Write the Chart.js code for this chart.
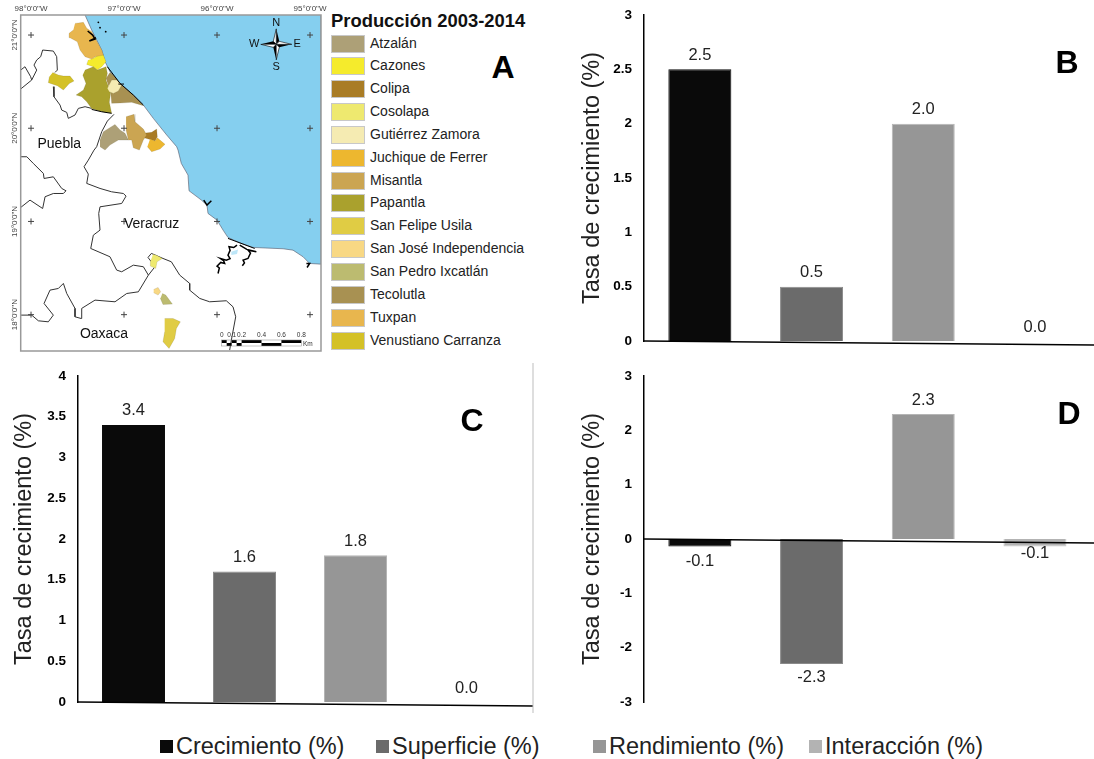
<!DOCTYPE html>
<html lang="es">
<head>
<meta charset="UTF-8">
<title>Producción 2003-2014</title>
<script src="https://cdn.jsdelivr.net/npm/chart.js"></script>
<style>
    body { margin: 0; background: #fff; font-family: "Liberation Sans", Arial, sans-serif; color: #222; overflow: hidden; }
    #page { position: relative; width: 1094px; height: 759px; }
    canvas { position: absolute; }
    .letra { position: absolute; font-size: 32px; font-weight: bold; color: #000; transform: translate(-50%, -50%); }
    #tituloMapa { position: absolute; left: 331px; top: 10px; font-size: 18.4px; font-weight: bold; color: #111; white-space: nowrap; }
    .mun { position: absolute; left: 331px; height: 18px; width: 200px; font-size: 14px; line-height: 17px; white-space: nowrap; }
    .mun i { position: absolute; left: 0; top: 0; width: 32px; height: 16px; border: 1px solid #c8c8c8; }
    .mun span { position: absolute; left: 39px; }
    .ley { position: absolute; top: 732px; font-size: 23.5px; line-height: 28px; white-space: nowrap; }
    .ley i { position: absolute; left: -16px; top: 8px; width: 13px; height: 13px; }
</style>
</head>
<body>
<div id="page">
    <canvas id="mapaA" width="330" height="360" style="left:0;top:0"></canvas>
    <canvas id="chartB" width="534" height="358" style="left:560px;top:0"></canvas>
    <canvas id="chartC" width="560" height="358" style="left:0;top:360px"></canvas>
    <canvas id="chartD" width="534" height="358" style="left:560px;top:360px"></canvas>
    <div id="tituloMapa">Producción 2003-2014</div>
    <div class="letra" style="left:503px;top:67px">A</div>
    <div class="letra" style="left:1067px;top:62px">B</div>
    <div class="letra" style="left:472px;top:420px">C</div>
    <div class="letra" style="left:1069px;top:413px">D</div>
</div>
<script>
// barras
const categorias = ['Crecimiento (%)', 'Superficie (%)', 'Rendimiento (%)', 'Interacción (%)'];
const coloresBarra = ['#0a0a0a', '#6b6b6b', '#969696', '#b3b3b3'];
const valoresB = [2.5, 0.5, 2.0, 0.0];
const valoresC = [3.4, 1.6, 1.8, 0.0];
const valoresD = [-0.14, -2.3, 2.3, -0.14];
const tituloEje = 'Tasa de crecimiento (%)';

// mapa: leyenda
const municipios = ['Atzalán', 'Cazones', 'Colipa', 'Cosolapa', 'Gutiérrez Zamora', 'Juchique de Ferrer', 'Misantla', 'Papantla',
    'San Felipe Usila', 'San José Independencia', 'San Pedro Ixcatlán', 'Tecolutla', 'Tuxpan', 'Venustiano Carranza'];
const coloresMun = ['#ADA077', '#F5EB2C', '#A97C25', '#EEE96F', '#F5EBB2', '#EDB72F', '#CBA552', '#AAA12D',
    '#E0CC44', '#F8D884', '#BCBB70', '#A89152', '#E8B64E', '#D4C127'];

// mapa: grados (lon, lat)
const lonTicks = [-98, -97, -96, -95];
const latTicks = [21, 20, 19, 18];

const mar = [[-97.419,21.215],[-97.348,21.054],[-97.294,20.946],[-97.24,20.839],[-97.204,20.714],[-97.151,20.607],[-97.043,20.481],
    [-96.9,20.356],[-96.792,20.249],[-96.685,20.106],[-96.541,19.927],[-96.434,19.802],[-96.419,19.765],[-96.384,19.622],[-96.312,19.497],
    [-96.301,19.329],[-96.168,19.229],[-96.108,19.175],[-96.097,19.086],[-96,19.014],[-95.935,18.907],[-95.882,18.828],[-95.756,18.771],
    [-95.613,18.721],[-95.29,18.707],[-95.183,18.692],[-95.075,18.621],[-95.004,18.549],[-94.882,18.542],[-94.882,21.215]];

const atzalan = [[-97.258,19.873],[-97.222,19.963],[-97.097,20.041],[-97.043,19.981],[-96.989,19.945],[-96.953,19.873],[-97.061,19.873],[-97.151,19.82],[-97.204,19.766],[-97.258,19.802]];
const cazones = [[-97.348,20.742],[-97.301,20.768],[-97.287,20.803],[-97.222,20.785],[-97.194,20.714],[-97.24,20.66],[-97.287,20.624],[-97.33,20.66],[-97.401,20.685],[-97.384,20.732]];
const colipa = [[-96.792,19.945],[-96.703,19.956],[-96.649,19.991],[-96.642,19.909],[-96.667,19.863],[-96.738,19.884],[-96.785,19.898]];
const cosolapa = [[-96.688,18.649],[-96.645,18.635],[-96.588,18.603],[-96.645,18.567],[-96.659,18.496],[-96.717,18.521],[-96.717,18.567]];
const gutierrezZamora = [[-97.179,20.428],[-97.133,20.517],[-97.079,20.517],[-97.025,20.464],[-97.061,20.399],[-97.115,20.374],[-97.158,20.392]];
const juchique = [[-96.72,19.884],[-96.667,19.863],[-96.642,19.898],[-96.559,19.827],[-96.613,19.777],[-96.703,19.748],[-96.749,19.802]];
const misantla = [[-96.978,20.124],[-96.892,20.149],[-96.882,20.07],[-96.792,19.991],[-96.756,19.927],[-96.792,19.873],[-96.835,19.766],[-96.9,19.791],[-96.918,19.873],[-96.953,19.873],[-96.978,19.981]];
const papantla = [[-97.419,20.624],[-97.33,20.66],[-97.287,20.624],[-97.194,20.66],[-97.179,20.589],[-97.194,20.517],[-97.143,20.385],[-97.158,20.278],[-97.133,20.16],[-97.24,20.177],[-97.348,20.213],[-97.401,20.285],[-97.455,20.338],[-97.516,20.356],[-97.437,20.41],[-97.409,20.481],[-97.444,20.571]];
const sanFelipe = [[-96.563,17.959],[-96.473,17.959],[-96.394,17.923],[-96.437,17.852],[-96.455,17.745],[-96.516,17.637],[-96.581,17.709],[-96.563,17.816]];
const sanJose = [[-96.681,18.27],[-96.634,18.292],[-96.606,18.245],[-96.634,18.21],[-96.681,18.235]];
const sanPedro = [[-96.588,18.227],[-96.552,18.21],[-96.48,18.113],[-96.581,18.109],[-96.609,18.174]];
const tecolutla = [[-97.194,20.535],[-97.151,20.599],[-97.097,20.553],[-97.043,20.481],[-96.9,20.356],[-96.792,20.242],[-96.918,20.278],[-97.043,20.27],[-97.133,20.267],[-97.143,20.385]];
const tuxpan = [[-97.527,21.125],[-97.437,21.136],[-97.401,21.072],[-97.348,21.036],[-97.294,20.936],[-97.24,20.839],[-97.222,20.785],[-97.312,20.768],[-97.348,20.742],[-97.419,20.768],[-97.473,20.839],[-97.502,20.928],[-97.581,20.971],[-97.591,21.018],[-97.545,21.054]];
const venustiano = [[-97.767,20.599],[-97.706,20.571],[-97.652,20.56],[-97.581,20.56],[-97.538,20.506],[-97.588,20.481],[-97.652,20.41],[-97.717,20.456],[-97.814,20.489],[-97.803,20.553]];
const poligonos = [atzalan, cazones, colipa, cosolapa, gutierrezZamora, juchique, misantla, papantla, sanFelipe, sanJose, sanPedro, tecolutla, tuxpan, venustiano];
// orden de dibujo: Gutiérrez Zamora va sobre Tecolutla y Papantla
const ordenPoligonos = [0, 1, 2, 3, 5, 6, 7, 8, 9, 10, 11, 4, 12, 13];

const lagunaAzul = [[-95.846,18.675],[-95.774,18.7],[-95.785,18.65],[-95.846,18.639]];

// limites estatales
const limiteNorte = [[-98.111,20.624],[-98.065,20.66],[-98.004,20.553],[-97.993,20.517],[-98.111,20.421]];
const limiteHidalgo = [[-97.993,20.517],[-97.939,20.624],[-97.968,20.678],[-97.939,20.732],[-97.896,20.768],[-97.875,20.839],[-97.76,20.828],[-97.724,20.768],[-97.717,20.624],[-97.742,20.599]];
const limitePuebla = [[-97.76,20.446],[-97.753,20.338],[-97.688,20.249],[-97.67,20.195],[-97.616,20.17],[-97.599,20.106],[-97.527,20.142],[-97.491,20.213],[-97.419,20.231],[-97.348,20.213]];
const limiteVeracruz = [[-97.108,20.149],[-97.179,20.077],[-97.24,19.963],[-97.294,19.802],[-97.323,19.765],[-97.384,19.658],[-97.43,19.587],[-97.384,19.508],[-97.401,19.408],[-97.258,19.354],[-97.133,19.318],[-97.007,19.3],[-96.978,19.272],[-97.025,19.193],[-97.258,19.157],[-97.272,19.086],[-97.258,18.907],[-97.33,18.853],[-97.358,18.71],[-97.151,18.621],[-97.079,18.478],[-97.025,18.46],[-96.9,18.531],[-96.792,18.514],[-96.738,18.424]];
const limiteSur = [[-96.667,18.514],[-96.742,18.614],[-96.706,18.657],[-96.581,18.603],[-96.491,18.567],[-96.401,18.424],[-96.294,18.335],[-96.294,18.263],[-96.186,18.174],[-96.079,18.138],[-95.9,18.149],[-95.828,18.084],[-95.799,17.977],[-95.846,17.727],[-95.864,17.62]];
const limiteCentro = [[-98.111,19.694],[-98.045,19.694],[-97.975,19.622],[-97.867,19.515],[-97.86,19.461],[-97.76,19.479],[-97.67,19.354],[-97.624,19.329],[-97.652,19.3],[-97.76,19.3],[-97.849,19.265],[-97.875,19.139],[-98.011,19.229],[-98.111,19.15]];
const limiteOaxaca = [[-98.111,17.995],[-97.993,17.995],[-97.921,17.934],[-97.814,17.923],[-97.76,17.995],[-97.86,18.12],[-97.796,18.263],[-97.706,18.281],[-97.652,18.335],[-97.616,18.227],[-97.527,18.067],[-97.527,17.977],[-97.462,17.959],[-97.455,18.067],[-97.312,18.156],[-97.097,18.138],[-96.971,18.227],[-96.846,18.245],[-96.738,18.424],[-96.667,18.514]];
const limites = [limiteNorte, limiteHidalgo, limitePuebla, limiteVeracruz, limiteSur, limiteCentro, limiteOaxaca];

// costa en negro
const costaTecolutla = [[-97.179,20.66],[-97.043,20.481],[-96.9,20.356],[-96.792,20.249]];
const papantlaSur = [[-97.348,20.202],[-97.24,20.177],[-97.133,20.16]];
const marcaZamora = [[-97.061,20.474],[-97,20.474]];
const costaAlvarado = [[-95.882,18.818],[-95.595,18.71]];
const costaNegra = [costaTecolutla, papantlaSur, marcaZamora, costaAlvarado];
// lagunas, mas gruesas y quebradas
const lagunaA = [[-95.785,18.746],[-95.82,18.72],[-95.871,18.728],[-95.86,18.69],[-95.882,18.639],[-95.86,18.6],[-95.9,18.585],[-95.964,18.603],[-95.93,18.58],[-95.918,18.549],[-95.96,18.56],[-96,18.521],[-95.975,18.5],[-95.989,18.442]];
const lagunaB = [[-95.756,18.746],[-95.68,18.7],[-95.577,18.675],[-95.667,18.692],[-95.64,18.66],[-95.667,18.603],[-95.72,18.585],[-95.705,18.555],[-95.728,18.524]];
const lagunaTuxpan = [[-97.391,21.043],[-97.337,21],[-97.312,20.957],[-97.373,20.936],[-97.301,20.971]];
const arrecife = [[-96.143,19.229],[-96.108,19.175],[-96.061,19.222]];
const desembocadura = [[-95.039,18.549],[-95.004,18.549],[-95.032,18.506]];
const lagunas = [lagunaA, lagunaB, lagunaTuxpan, arrecife, desembocadura];
const islotes = [[-97.276,21.136],[-97.258,21.079],[-97.197,21.036]];

const lugares = ['Puebla', 'Veracruz', 'Oaxaca'];
const lugaresLon = [-97.696, -96.704, -97.215];
const lugaresLat = [19.83, 18.97, 17.795];
const escalaKm = [0, 0.05, 0.1, 0.15, 0.2, 0.4, 0.6, 0.8];
const escalaEtiquetas = [0, 0.1, 0.2, 0.4, 0.6, 0.8];

const fuente = '"Liberation Sans", Arial, sans-serif';
const page = document.getElementById('page');

function puntos(lista) {
    return lista.map(p => ({ x: p[0], y: p[1] }));
}

// leyenda de municipios y leyenda inferior
municipios.forEach((nombre, i) => {
    const d = document.createElement('div');
    d.className = 'mun';
    d.style.top = (34.5 + i * 22.85) + 'px';
    d.innerHTML = `<i style="background:${coloresMun[i]}"></i><span>${nombre}</span>`;
    page.appendChild(d);
});
const leyendaX = [176, 392, 609, 825];
categorias.forEach((nombre, i) => {
    const d = document.createElement('div');
    d.className = 'ley';
    d.style.left = leyendaX[i] + 'px';
    d.innerHTML = `<i style="background:${coloresBarra[i]}"></i>${nombre}`;
    page.appendChild(d);
});

// mapa
const datasetsMapa = [];
datasetsMapa.push({ data: puntos(mar), showLine: true, fill: 'shape', backgroundColor: '#85CFEF', borderColor: '#556', borderWidth: 0.6, pointRadius: 0, tension: 0 });
datasetsMapa.push({ data: puntos(lagunaAzul), showLine: true, fill: 'shape', backgroundColor: '#BDE6F8', borderWidth: 0, pointRadius: 0, tension: 0 });
limites.forEach(l => {
    datasetsMapa.push({ data: puntos(l), showLine: true, fill: false, borderColor: '#333', borderWidth: 1, pointRadius: 0, tension: 0 });
});
ordenPoligonos.forEach(i => {
    datasetsMapa.push({ data: puntos(poligonos[i]), showLine: true, fill: 'shape', backgroundColor: coloresMun[i], borderColor: 'rgba(90,80,50,.3)', borderWidth: 0.5, pointRadius: 0, tension: 0 });
});
costaNegra.forEach(l => {
    datasetsMapa.push({ data: puntos(l), showLine: true, fill: false, borderColor: '#000', borderWidth: 1, pointRadius: 0, tension: 0 });
});
lagunas.forEach(l => {
    datasetsMapa.push({ data: puntos(l), showLine: true, fill: false, borderColor: '#000', borderWidth: 1.5, pointRadius: 0, tension: 0 });
});
datasetsMapa.push({ data: puntos(islotes), pointRadius: 0.9, backgroundColor: '#000', borderWidth: 0 });
const cruces = [];
lonTicks.forEach(lon => latTicks.forEach(lat => cruces.push([lon, lat])));
datasetsMapa.push({ data: puntos(cruces), pointStyle: 'cross', pointRadius: 3, borderColor: '#444', borderWidth: 1 });
// el primero en la lista queda debajo
datasetsMapa.forEach((d, i) => { d.order = datasetsMapa.length - i; });

const decoracionMapa = {
    id: 'decoracionMapa',
    afterDraw(chart) {
        const ctx = chart.ctx;
        const a = chart.chartArea;
        const sx = chart.scales.x;
        const sy = chart.scales.y;
        ctx.save();
        ctx.strokeStyle = '#999';
        ctx.lineWidth = 1.5;
        ctx.strokeRect(a.left, a.top, a.right - a.left, a.bottom - a.top);

        // etiquetas de latitud giradas
        ctx.fillStyle = '#444';
        ctx.font = '8px ' + fuente;
        ctx.textAlign = 'center';
        ctx.textBaseline = 'middle';
        sy.ticks.forEach(t => {
            ctx.save();
            ctx.translate(14.5, sy.getPixelForValue(t.value));
            ctx.rotate(-Math.PI / 2);
            ctx.fillText(t.value + '°0\'0"N', 0, 0);
            ctx.restore();
        });

        // lugares
        ctx.fillStyle = '#111';
        ctx.font = '14px ' + fuente;
        lugares.forEach((l, i) => {
            ctx.fillText(l, sx.getPixelForValue(lugaresLon[i]), sy.getPixelForValue(lugaresLat[i]));
        });

        // rosa de los vientos
        const cx = sx.getPixelForValue(-95.363);
        const cy = sy.getPixelForValue(20.9);
        for (let k = 0; k < 4; k++) {
            ctx.save();
            ctx.translate(cx, cy);
            ctx.rotate(k * Math.PI / 2);
            ctx.fillStyle = '#000';
            ctx.beginPath();
            ctx.moveTo(0, -15.5);
            ctx.lineTo(3, -3);
            ctx.lineTo(0, 0);
            ctx.closePath();
            ctx.fill();
            ctx.fillStyle = '#fff';
            ctx.strokeStyle = '#000';
            ctx.lineWidth = 0.6;
            ctx.beginPath();
            ctx.moveTo(0, -15.5);
            ctx.lineTo(-3, -3);
            ctx.lineTo(0, 0);
            ctx.closePath();
            ctx.fill();
            ctx.stroke();
            ctx.restore();
        }
        ctx.fillStyle = '#111';
        ctx.font = '11px ' + fuente;
        ctx.fillText('N', cx, cy - 21.5);
        ctx.fillText('S', cx, cy + 23);
        ctx.fillText('W', cx - 22, cy);
        ctx.fillText('E', cx + 21, cy);

        // barra de escala
        const x0 = 221.7;
        const ancho = 79.6;
        const y0 = 340;
        const xKm = v => x0 + v / 0.8 * ancho;
        ctx.fillStyle = '#000';
        for (let k = 0; k < escalaKm.length - 1; k++) {
            const fila = k % 2 === 0 ? y0 : y0 + 3;
            ctx.fillRect(xKm(escalaKm[k]), fila, xKm(escalaKm[k + 1]) - xKm(escalaKm[k]), 3);
        }
        ctx.strokeStyle = '#888';
        ctx.lineWidth = 0.5;
        ctx.strokeRect(x0, y0, ancho, 6);
        ctx.fillStyle = '#333';
        ctx.font = '6.5px ' + fuente;
        escalaEtiquetas.forEach(v => ctx.fillText(String(v), xKm(v), y0 - 5));
        ctx.fillText('Km', x0 + ancho + 6.5, y0 + 4);
        ctx.restore();
    }
};

new Chart(document.getElementById('mapaA'), {
    type: 'scatter',
    data: { datasets: datasetsMapa },
    plugins: [decoracionMapa],
    options: {
        responsive: false,
        animation: false,
        layout: { padding: { right: 9, bottom: 9 } },
        plugins: { legend: { display: false }, tooltip: { enabled: false } },
        scales: {
            x: {
                position: 'top', min: -98.111, max: -94.882,
                grid: { display: false, drawTicks: false }, border: { display: false },
                afterBuildTicks: s => { s.ticks = lonTicks.map(v => ({ value: v })); },
                afterFit: s => { s.height = 15; s.paddingLeft = 0; s.paddingRight = 0; },
                ticks: { color: '#444', font: { family: fuente, size: 8 }, padding: 1, maxRotation: 0, autoSkip: false,
                    callback: v => (-v) + '°0\'0"W' }
            },
            y: {
                min: 17.61, max: 21.215,
                grid: { display: false, drawTicks: false }, border: { display: false },
                afterBuildTicks: s => { s.ticks = latTicks.map(v => ({ value: v })); },
                afterFit: s => { s.width = 20.7; },
                ticks: { display: false }
            }
        }
    }
});

// graficas de barras
function crearBarras(id, valores, cfg) {
    const etiquetasBarras = {
        id: 'etiquetas' + id,
        afterDatasetsDraw(chart) {
            const ctx = chart.ctx;
            const a = chart.chartArea;
            const y0 = chart.scales.y.getPixelForValue(0);
            ctx.save();
            // eje inclinado, como en la figura original
            ctx.strokeStyle = '#000';
            ctx.lineWidth = 1.5;
            ctx.beginPath();
            ctx.moveTo(a.left, y0);
            ctx.lineTo(cfg.ejeFin, y0 + 4);
            ctx.stroke();
            if (cfg.lineaGris) {
                ctx.strokeStyle = '#bdbdbd';
                ctx.lineWidth = 1;
                ctx.beginPath();
                ctx.moveTo(cfg.ejeFin, 3);
                ctx.lineTo(cfg.ejeFin, 353);
                ctx.stroke();
            }
            ctx.fillStyle = '#222';
            ctx.font = '16.5px ' + fuente;
            ctx.textAlign = 'center';
            ctx.textBaseline = 'middle';
            chart.getDatasetMeta(0).data.forEach((bar, i) => {
                const v = valores[i];
                const d = cfg.desplaza ? cfg.desplaza[i] : -14;
                ctx.fillText(v.toFixed(1), bar.x, bar.y + d);
            });
            ctx.restore();
        }
    };
    return new Chart(document.getElementById(id), {
        type: 'bar',
        data: {
            labels: categorias,
            datasets: [{
                data: valores,
                backgroundColor: coloresBarra,
                borderColor: ['#0a0a0a', '#8a8a8a', '#b5b5b5', '#c8c8c8'],
                borderWidth: 1,
                barPercentage: cfg.barra,
                categoryPercentage: 1
            }]
        },
        plugins: [etiquetasBarras],
        options: {
            responsive: false,
            animation: false,
            layout: { padding: cfg.margen },
            plugins: { legend: { display: false }, tooltip: { enabled: false } },
            scales: {
                x: { display: false },
                y: {
                    min: cfg.min, max: cfg.max,
                    afterFit: s => { s.width = cfg.anchoY; s.paddingTop = 0; s.paddingBottom = 0; },
                    grid: { display: false, drawTicks: false },
                    border: { display: true, color: '#000', width: 1.5 },
                    ticks: { stepSize: cfg.paso, color: '#000', padding: 12, font: { family: fuente, size: 13.5, weight: 'bold' }, callback: v => String(v) },
                    title: { display: true, text: tituloEje, color: '#222', font: { family: fuente, size: 23.5 }, padding: { top: cfg.tituloX, bottom: 0 } }
                }
            }
        }
    });
}

crearBarras('chartB', valoresB, { min: 0, max: 3, paso: 0.5, barra: 0.564, anchoY: 84, tituloX: 18, ejeFin: 534,
    margen: { top: 15, bottom: 17, right: 3.2 } });
crearBarras('chartC', valoresC, { min: 0, max: 4, paso: 0.5, barra: 0.568, anchoY: 78, tituloX: 10, ejeFin: 533, lineaGris: true,
    margen: { top: 16, bottom: 16, right: 38 } });
crearBarras('chartD', valoresD, { min: -3, max: 3, paso: 1, barra: 0.564, anchoY: 84, tituloX: 18, ejeFin: 534,
    desplaza: [15, 13, -14, 7],
    margen: { top: 16, bottom: 16, right: 3.2 } });
</script>
</body>
</html>
